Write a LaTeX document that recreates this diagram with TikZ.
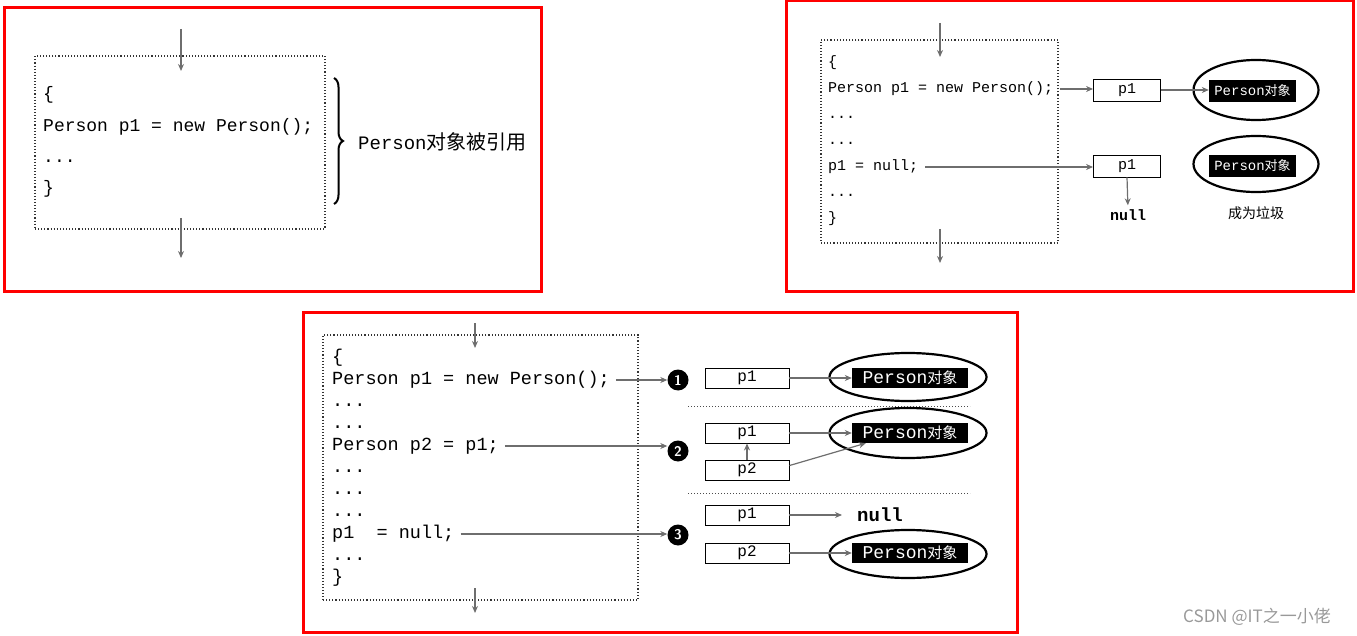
\documentclass[tikz,border=0pt]{standalone}
\usepackage{fontspec}
\setmonofont{Liberation Mono}
\newfontfamily\cjk{Noto Sans CJK SC}
\usepackage{xcolor}
\usepackage{tikz}
\usetikzlibrary{arrows.meta, positioning, shapes.geometric, decorations.pathreplacing}

\definecolor{framered}{HTML}{FF0000}
\definecolor{linegray}{HTML}{6E6E6E}

\begin{document}
\begin{tikzpicture}[x=1pt, y=-1pt,
    every node/.style={inner sep=0pt},
    frame/.style={draw=framered, line width=3pt},
    codebox/.style={draw=black!80, dotted, line width=1.1pt},
    code/.style={anchor=west, inner sep=1pt, execute at begin node=\strut},
    ref/.style={draw, line width=0.9pt, font=\ttfamily\fontsize{16}{18}\selectfont},
    obj/.style={fill=black, text=white},
    ring/.style={draw, ellipse, line width=2.2pt},
    step_no/.style={circle, fill=black, minimum size=21pt, text=white, font=\sffamily\bfseries\fontsize{14}{14}\selectfont},
    link/.style={draw=linegray, line width=1.2pt, -{Stealth[length=7pt, width=6pt]}}]

    \useasboundingbox (0,0) rectangle (1357,636);

    % Panel one: object still referenced
    \draw[frame] (4,8) rectangle (541,292);
    \node[codebox, minimum width=290pt, minimum height=173pt] (block_one) at (180,142.5) {};
    \begin{scope}[every node/.append style={font=\ttfamily\fontsize{18}{22}\selectfont}]
        \node[code] (one_open) at (42,95) {\{};
        \node[code] (one_new) at (42,127) {Person p1 = new Person();};
        \node[code] (one_dots) at (42,158) {...};
        \node[code] (one_close) at (42,189) {\}};
    \end{scope}
    \coordinate (one_in_top) at (181,29);
    \coordinate (one_in_end) at (181,71);
    \coordinate (one_out_top) at (181,218);
    \coordinate (one_out_end) at (181,258);
    \draw[link] (one_in_top) -- (one_in_end);
    \draw[link] (one_out_top) -- (one_out_end);
    \coordinate (brace_top) at (334,78);
    \coordinate (brace_bot) at (334,204);
    \draw[decorate, decoration={brace, amplitude=9pt}, line width=2pt] (brace_top) -- (brace_bot);
    \node[anchor=west] (one_note) at (358,142) {{\ttfamily\fontsize{19}{22}\selectfont Person}{\cjk\fontsize{20}{24}\selectfont 对象被引用}};

    % Panel two: p1 set to null
    \draw[frame] (786,1) rectangle (1353,292);
    \node[codebox, minimum width=237pt, minimum height=203pt] (block_two) at (939.5,141.5) {};
    \begin{scope}[every node/.append style={font=\ttfamily\fontsize{15}{19}\selectfont}]
        \node[code] (two_open) at (827,63) {\{};
        \node[code] (two_new) at (827,89) {Person p1 = new Person();};
        \node[code] (two_dots_a) at (827,115) {...};
        \node[code] (two_dots_b) at (827,141) {...};
        \node[code] (two_null) at (827,167) {p1 = null;};
        \node[code] (two_dots_c) at (827,193) {...};
        \node[code] (two_close) at (827,219) {\}};
    \end{scope}
    \coordinate (two_in_top) at (940,23);
    \coordinate (two_in_end) at (940,57);
    \coordinate (two_out_top) at (940,229);
    \coordinate (two_out_end) at (940,263);
    \draw[link] (two_in_top) -- (two_in_end);
    \draw[link] (two_out_top) -- (two_out_end);

    \node[ref, minimum width=67pt, minimum height=22pt, font=\ttfamily\fontsize{15}{17}\selectfont] (two_p1_a) at (1127,90) {p1};
    \node[ref, minimum width=67pt, minimum height=22pt, font=\ttfamily\fontsize{15}{17}\selectfont] (two_p1_b) at (1127,166) {p1};
    \node[obj, minimum width=87pt, minimum height=22pt] (two_obj_a) at (1252.5,91) {{\ttfamily\fontsize{14}{16}\selectfont Person}{\cjk\fontsize{13}{16}\selectfont 对象}};
    \node[obj, minimum width=87pt, minimum height=22pt] (two_obj_b) at (1252.5,166) {{\ttfamily\fontsize{14}{16}\selectfont Person}{\cjk\fontsize{13}{16}\selectfont 对象}};
    \node[ring, minimum width=125pt, minimum height=60pt] (two_ring_a) at (1256,90) {};
    \node[ring, minimum width=125pt, minimum height=56pt] (two_ring_b) at (1256,164) {};
    \node[font=\ttfamily\bfseries\fontsize{15}{17}\selectfont] (two_nil) at (1128,215) {null};
    \node[font=\cjk\fontsize{14}{16}\selectfont] (two_trash) at (1256,213) {成为垃圾};

    \draw[link, shorten <=6pt] (two_new.east) -- (two_new.east -| two_p1_a.west);
    \draw[link] (two_p1_a.east) -- (two_p1_a.east -| two_obj_a.west);
    \draw[link, shorten <=6pt] (two_null.east) -- (two_null.east -| two_p1_b.west);
    \draw[link, shorten >=4pt] (two_p1_b.south) -- (two_nil.north);

    % Panel three: two references, then one nulled
    \draw[frame] (303,312) rectangle (1017,632);
    \node[codebox, minimum width=315pt, minimum height=265pt] (block_three) at (480.5,467.5) {};
    \begin{scope}[every node/.append style={font=\ttfamily\fontsize{18.5}{22}\selectfont}]
        \node[code] (three_open) at (331,358) {\{};
        \node[code] (three_new) at (331,380) {Person p1 = new Person();};
        \node[code] (three_dots_a) at (331,402) {...};
        \node[code] (three_dots_b) at (331,424) {...};
        \node[code] (three_copy) at (331,446) {Person p2 = p1;};
        \node[code] (three_dots_c) at (331,468) {...};
        \node[code] (three_dots_d) at (331,490) {...};
        \node[code] (three_dots_e) at (331,512) {...};
        \node[code] (three_null) at (331,534) {p1\ \ = null;};
        \node[code] (three_dots_f) at (331,556) {...};
        \node[code] (three_close) at (331,578) {\}};
    \end{scope}
    \coordinate (three_in_top) at (475,323);
    \coordinate (three_in_end) at (475,348);
    \coordinate (three_out_top) at (475,588);
    \coordinate (three_out_end) at (475,613);
    \draw[link] (three_in_top) -- (three_in_end);
    \draw[link] (three_out_top) -- (three_out_end);

    \node[step_no] (mark_one) at (678,380) {1};
    \node[step_no] (mark_two) at (678,451) {2};
    \node[step_no] (mark_three) at (678,535) {3};
    \draw[link, shorten <=5pt] (three_new.east) -- (three_new.east -| mark_one.west);
    \draw[link, shorten <=5pt] (three_copy.east) -- (three_copy.east -| mark_two.west);
    \draw[link, shorten <=5pt] (three_null.east) -- (three_null.east -| mark_three.west);

    \node[ref, minimum width=84pt, minimum height=20pt] (p1_one) at (747,378) {p1};
    \node[ref, minimum width=84pt, minimum height=20pt] (p1_two) at (747,433) {p1};
    \node[ref, minimum width=84pt, minimum height=20pt] (p2_two) at (747,470) {p2};
    \node[ref, minimum width=84pt, minimum height=20pt] (p1_three) at (747,515) {p1};
    \node[ref, minimum width=84pt, minimum height=20pt] (p2_three) at (747,553) {p2};

    \node[obj, minimum width=116pt, minimum height=20pt] (obj_one) at (910,378) {{\ttfamily\fontsize{18}{20}\selectfont Person}{\cjk\fontsize{15}{18}\selectfont 对象}};
    \node[obj, minimum width=116pt, minimum height=20pt] (obj_two) at (910,433) {{\ttfamily\fontsize{18}{20}\selectfont Person}{\cjk\fontsize{15}{18}\selectfont 对象}};
    \node[obj, minimum width=116pt, minimum height=20pt] (obj_three) at (910,553) {{\ttfamily\fontsize{18}{20}\selectfont Person}{\cjk\fontsize{15}{18}\selectfont 对象}};
    \node[ring, minimum width=157pt, minimum height=48pt] (ring_one) at (908,377) {};
    \node[ring, minimum width=157pt, minimum height=50pt] (ring_two) at (908,433) {};
    \node[ring, minimum width=157pt, minimum height=48pt] (ring_three) at (908,554) {};
    \node[anchor=west, font=\ttfamily\bfseries\fontsize{19}{21}\selectfont] (nil_three) at (857,515) {null};

    \draw[dotted, draw=black!70, line width=1pt] (688,406) -- (970,406);
    \draw[dotted, draw=black!70, line width=1pt] (688,493) -- (970,493);

    \draw[link] (p1_one.east) -- (obj_one.west);
    \draw[link] (p1_two.east) -- (obj_two.west);
    \draw[link] (p2_two.north) -- (p1_two.south);
    \draw[link] (p2_two.6) -- (obj_two.193);
    \draw[link, shorten >=15pt] (p1_three.east) -- (nil_three.west);
    \draw[link] (p2_three.east) -- (obj_three.west);

    % watermark
    \node[text=black!40, font=\cjk\fontsize{17}{19}\selectfont] (mark_text) at (1257,617) {CSDN @IT之一小佬};

\end{tikzpicture}
\end{document}
